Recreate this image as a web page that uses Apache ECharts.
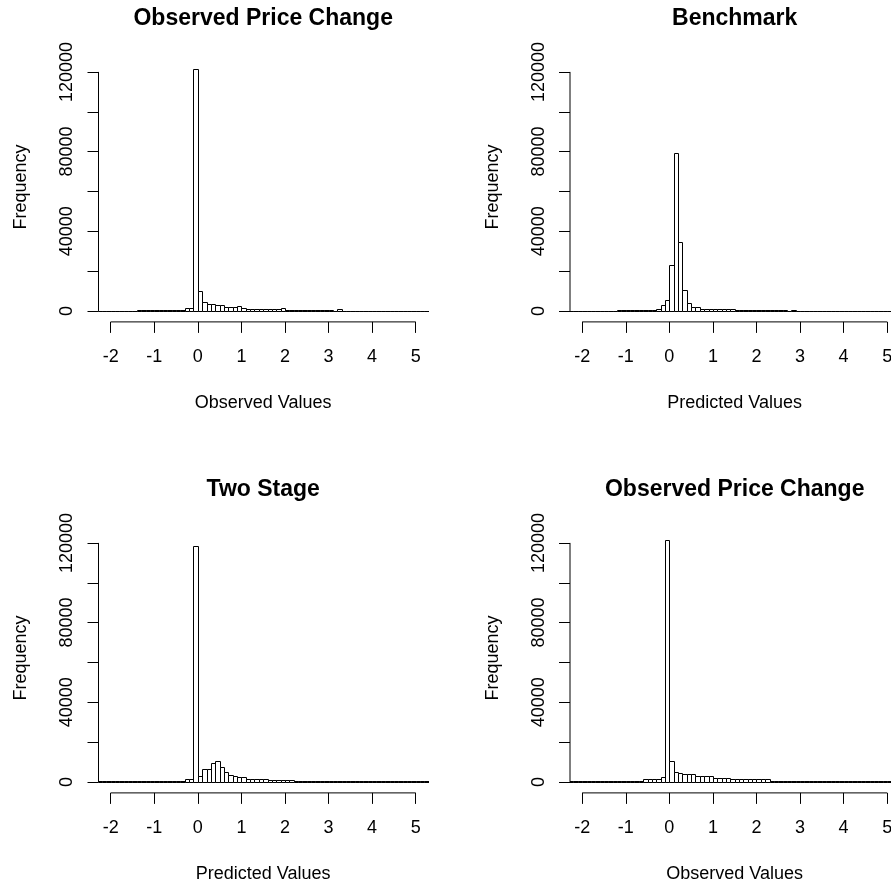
<!DOCTYPE html>
<html><head><meta charset="utf-8">
<script src="https://cdn.jsdelivr.net/npm/echarts@6/dist/echarts.min.js"></script>
<style>html,body{margin:0;padding:0;background:#fff}#c{width:891px;height:886px}</style>
</head><body><div id="c"></div>
<script>
// Histogram bins: lower edge of first bin and bin width
const binStart = -2.3;
const binWidth = 0.1;

// Frequencies per bin (76 bins from -2.3 to 5.3)
const observedA = [
  0,0,0,0,0,0,0,0,0,
  400,400,400,400,400,400,400,400,400,400,400,
  1300,1300,121400,
  10000,4300,3700,3300,3000,2800,2200,2000,2100,2700,1700,1200,1100,1000,900,900,900,900,800,1300,
  450,450,450,450,450,450,450,450,450,450,450,
  0,800,
  0,0,0,0,0,0,0,0,0,0,0,0,0,0,0,0,0,0,0,0
];
const benchmark = [
  0,0,0,0,0,0,0,0,0,0,0,
  400,400,400,400,400,400,400,400,400,
  1200,2800,5700,23000,79400,34500,10400,4000,2000,1900,1200,
  850,850,850,850,850,850,850,
  400,400,400,400,400,400,400,400,400,400,400,400,
  0,700,
  0,0,0,0,0,0,0,0,0,0,0,0,0,0,0,0,0,0,0,0,0,0,0,0
];
const twoStage = [
  350,350,350,350,350,350,350,350,350,350,350,350,350,350,350,350,350,350,350,350,
  1500,1500,118700,
  3000,6600,6700,9500,10300,7300,5000,3700,3000,2300,2300,1700,
  1500,1400,1300,1300,1200,1200,1200,1200,1200,1200,
  350,350,350,350,350,350,350,350,350,350,350,350,350,350,350,350,350,350,350,350,350,350,350,350,350,350,350,350,350,350,350
];
const observedB = [
  350,350,350,350,350,350,350,350,350,350,350,350,350,350,350,350,350,
  1300,1300,1300,1300,2500,121300,
  10300,5200,4500,3900,3900,3800,3000,3000,3000,2900,2200,2200,2200,2100,
  1400,1400,1400,1400,1400,1400,1400,1400,1400,
  350,350,350,350,350,350,350,350,350,350,350,350,350,350,350,350,350,350,350,350,350,350,350,350,350,350,350,350,350,350
];

const xTicks = [-2, -1, 0, 1, 2, 3, 4, 5];
const yTicks = [0, 20000, 40000, 60000, 80000, 100000, 120000];
const yLabels = [0, 40000, 80000, 120000];
const titles = ['Observed Price Change', 'Benchmark', 'Two Stage', 'Observed Price Change'];
const xNames = ['Observed Values', 'Predicted Values', 'Predicted Values', 'Observed Values'];
const panels = [observedA, benchmark, twoStage, observedB];

// layout
const xMin = -2.28, xMax = 5.28, yMin = -5500, yMax = 130000;
const gLeft = [98.5, 570, 98.5, 570];
const gTop = [52, 52, 523, 523];
const gW = 329.4, gH = 269.9;
const FONT = 'Liberation Sans';

function renderBin(params, api) {
  const a = api.coord([api.value(0), 0]);
  const b = api.coord([api.value(1), api.value(2)]);
  const x0 = Math.round(a[0]) + 0.5, x1 = Math.round(b[0]) + 0.5;
  const y0 = Math.round(a[1]) + 0.5, y1 = Math.round(b[1]) + 0.5;
  return {
    type: 'rect',
    shape: { x: x0, y: y1, width: x1 - x0, height: y0 - y1 },
    style: { fill: '#fff', stroke: '#000', lineWidth: 1 }
  };
}

const grid = [], xAxis = [], yAxis = [], series = [], title = [];
panels.forEach((counts, k) => {
  grid.push({ left: gLeft[k], top: gTop[k], width: gW, height: gH, outerBoundsMode: 'none', containLabel: false });
  title.push({
    text: titles[k], left: gLeft[k] + gW / 2, top: gTop[k] - 45, textAlign: 'center', padding: 0,
    textStyle: { fontFamily: FONT, fontSize: 23, fontWeight: 'bold', color: '#000' }
  });
  xAxis.push({
    type: 'value', gridIndex: k, min: xMin, max: xMax,
    name: xNames[k], nameLocation: 'middle', nameGap: 72,
    nameTextStyle: { fontFamily: FONT, fontSize: 18, color: '#000' },
    axisLine: { show: false, onZero: false },
    axisTick: { show: true, customValues: xTicks, length: 11, lineStyle: { color: '#000', width: 1 } },
    axisLabel: { customValues: xTicks, margin: 26, fontFamily: FONT, fontSize: 18, color: '#000', hideOverlap: false, formatter: v => String(v) },
    splitLine: { show: false }
  });
  yAxis.push({
    type: 'value', gridIndex: k, min: yMin, max: yMax,
    name: 'Frequency', nameLocation: 'middle', nameGap: 68, nameRotate: 90,
    nameTextStyle: { fontFamily: FONT, fontSize: 18, color: '#000' },
    axisLine: { show: false, onZero: false },
    axisTick: { show: true, customValues: yTicks, length: 11, lineStyle: { color: '#000', width: 1 } },
    axisLabel: { customValues: yLabels, rotate: 90, margin: 22, fontFamily: FONT, fontSize: 18, color: '#000', hideOverlap: false, formatter: v => String(v) },
    splitLine: { show: false }
  });
  const data = counts.map((c, i) => [
    +(binStart + i * binWidth).toFixed(2),
    +(binStart + (i + 1) * binWidth).toFixed(2),
    c
  ]);
  series.push({
    type: 'custom', xAxisIndex: k, yAxisIndex: k, clip: true, silent: true,
    renderItem: renderBin, data: data
  });
  // axis lines spanning first to last tick (R style)
  series.push({
    type: 'line', xAxisIndex: k, yAxisIndex: k, clip: false, silent: true, symbol: 'none',
    lineStyle: { color: '#000', width: 1 },
    data: [[xTicks[0], yMin], [xTicks[xTicks.length - 1], yMin]]
  });
  series.push({
    type: 'line', xAxisIndex: k, yAxisIndex: k, clip: false, silent: true, symbol: 'none',
    lineStyle: { color: '#000', width: 1 },
    data: [[xMin, yTicks[0]], [xMin, yTicks[yTicks.length - 1]]]
  });
});

const chart = echarts.init(document.getElementById('c'), null, { renderer: 'canvas' });
chart.setOption({
  animation: false,
  backgroundColor: '#fff',
  title, grid, xAxis, yAxis, series
});
</script>
</body></html>
